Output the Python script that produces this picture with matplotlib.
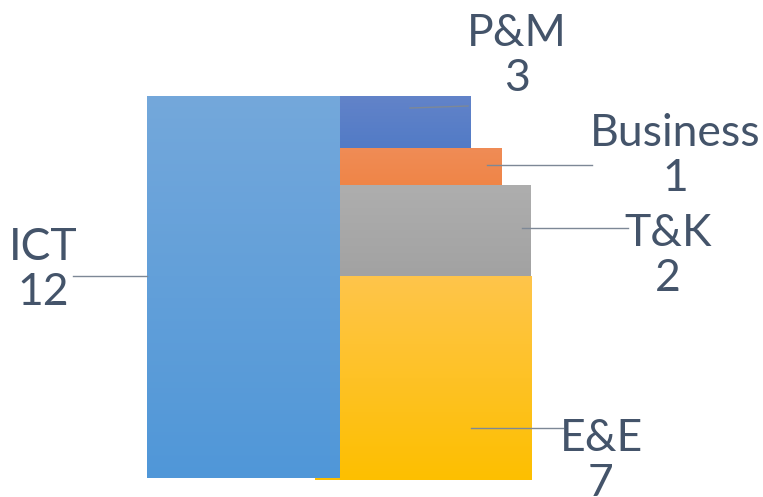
import matplotlib.pyplot as plt
import numpy as np
from matplotlib.colors import LinearSegmentedColormap

# data
categories = ['ICT', 'P&M', 'Business', 'T&K', 'E&E']
values = [12, 3, 1, 2, 7]

# layout of the blocks in pixel units (left, top, width, height)
block_left = [147, 340, 340, 340, 340]
block_top = [96, 96, 148, 185, 276]
block_width = [193, 131, 162, 191, 192]
block_height = [382, 52, 37, 91, 204]
grad_top = ['#74a8db', '#6283c9', '#f08c56', '#aeaeae', '#ffc54b']
grad_bottom = ['#5097d8', '#527bc6', '#ef8547', '#a2a2a2', '#fdbf00']

# label anchors and leader lines
label_xy = [(43, 270), (517, 56), (675, 156), (668, 256), (601, 461)]
leader_lines = [((73, 276), (147, 276)), ((410, 108), (468, 106)),
                ((487, 165), (592, 165)), ((522, 228), (628, 228)),
                ((471, 428), (563, 428))]

text_color = '#44546a'
line_color = '#7d8896'


def gradient_bar(ax, left, top, width, height, c_top, c_bottom):
    bars = ax.bar(left, height, width=width, bottom=top, align='edge',
                  color='none', edgecolor='none', zorder=2)
    patch = bars[0]
    cmap = LinearSegmentedColormap.from_list('g', [c_top, c_bottom])
    grad = np.linspace(0, 1, 256).reshape(-1, 1)
    im = ax.imshow(grad, cmap=cmap, aspect='auto', interpolation='bicubic',
                   extent=(left, left + width, top + height, top), zorder=2)
    im.set_clip_path(patch)


def main():
    fig = plt.figure(figsize=(7.63, 4.97), dpi=100)
    ax = fig.add_axes([0, 0, 1, 1])
    ax.set_xlim(0, 763)
    ax.set_ylim(497, 0)
    ax.axis('off')

    # small yellow sliver peeking out below the ICT block
    gradient_bar(ax, 315, 476, 30, 4, '#fdbf00', '#fdbf00')

    for i in range(len(categories)):
        gradient_bar(ax, block_left[i], block_top[i], block_width[i],
                     block_height[i], grad_top[i], grad_bottom[i])

    for (x0, y0), (x1, y1) in leader_lines:
        ax.plot([x0, x1], [y0, y1], color=line_color, lw=1.0, zorder=3)

    for cat, val, (x, y) in zip(categories, values, label_xy):
        ax.text(x, y, f'{cat}\n{val}', ha='center', va='center',
                fontsize=32, family=['Lato', 'DejaVu Sans'], color=text_color,
                linespacing=1.12, zorder=4)

    ax.set_xlim(0, 763)
    ax.set_ylim(497, 0)
    fig.savefig('out.png', dpi=100)


if __name__ == '__main__':
    main()
